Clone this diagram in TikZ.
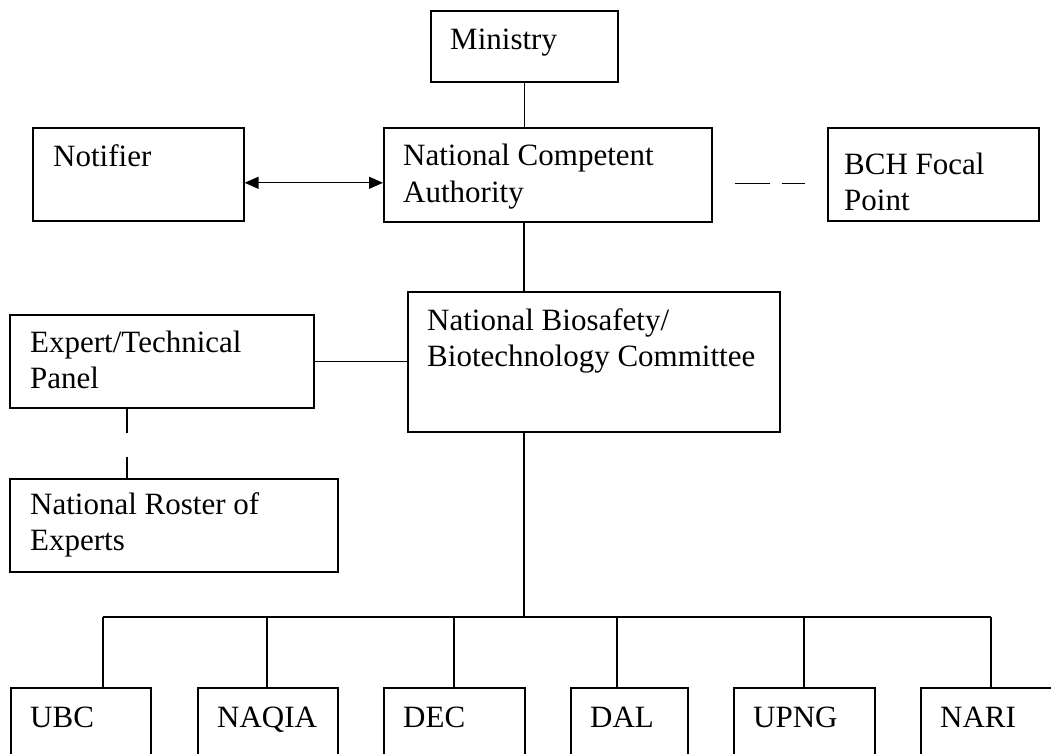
\documentclass[tikz,border=0pt]{standalone}
\usepackage{fontspec}
\setmainfont{Liberation Serif}
\usetikzlibrary{arrows.meta,calc}
\newcommand{\twol}[2]{\begin{tabular}[t]{@{}l@{}}#1\\#2\end{tabular}}
\begin{document}
\begin{tikzpicture}[x=1pt,y=-1pt,
  box/.style={draw,line width=1.6pt,inner sep=0pt,anchor=north west},
  txt/.style={anchor=base west,inner sep=0pt,font=\fontsize{31}{36}\selectfont},
  conn/.style={line width=1.4pt}]
\clip (0,0) rectangle (1051,754);
\fill[white] (0,0) rectangle (1051,754);
% boxes
\node[box,minimum width=187pt,minimum height=71pt] (min) at (430,10) {};
\node[box,minimum width=211pt,minimum height=93pt] (not) at (32,127) {};
\node[box,minimum width=328pt,minimum height=94pt] (nca) at (383,127) {};
\node[box,minimum width=211pt,minimum height=93pt] (bch) at (827,127) {};
\node[box,minimum width=304pt,minimum height=93pt] (exp) at (9,314) {};
\node[box,minimum width=372pt,minimum height=140pt] (nbc) at (407,291) {};
\node[box,minimum width=328pt,minimum height=93pt] (ros) at (9,478) {};
\node[box,minimum width=140pt,minimum height=100pt] (ubc) at (10,687) {};
\node[box,minimum width=140pt,minimum height=100pt] (naq) at (197,687) {};
\node[box,minimum width=141pt,minimum height=100pt] (dec) at (383,687) {};
\node[box,minimum width=117pt,minimum height=100pt] (dal) at (570,687) {};
\node[box,minimum width=141pt,minimum height=100pt] (upn) at (733,687) {};
\node[box,minimum width=160pt,minimum height=100pt] (nar) at (920,687) {};
% texts
\node[txt] (min-t) at ($(min.north west)+(20,40)$) {Ministry};
\node[txt] (not-t) at ($(not.north west)+(21,40)$) {Notifier};
\node[txt] (nca-t) at ($(nca.north west)+(20,39)$) {\twol{National Competent}{Authority}};
\node[txt] (bch-t) at ($(bch.north west)+(17,48)$) {\twol{BCH Focal}{Point}};
\node[txt] (exp-t) at ($(exp.north west)+(21,38)$) {\twol{Expert/Technical}{Panel}};
\node[txt] (nbc-t) at ($(nbc.north west)+(20,39)$) {\twol{National Biosafety/}{Biotechnology Committee}};
\node[txt] (ros-t) at ($(ros.north west)+(21,36)$) {\twol{National Roster of}{Experts}};
\node[txt] (ubc-t) at ($(ubc.north west)+(20,40)$) {UBC};
\node[txt] (naq-t) at ($(naq.north west)+(20,40)$) {NAQIA};
\node[txt] (dec-t) at ($(dec.north west)+(20,40)$) {DEC};
\node[txt] (dal-t) at ($(dal.north west)+(20,40)$) {DAL};
\node[txt] (upn-t) at ($(upn.north west)+(20,40)$) {UPNG};
\node[txt] (nar-t) at ($(nar.north west)+(20,40)$) {NARI};
% connectors
\coordinate (trunk) at (524,0);
\coordinate (bus) at (524,617);
\draw[conn] (min.south) -- (min.south |- nca.north);
\draw[conn] (trunk |- nca.south) -- (trunk |- nbc.north);
\draw[conn] (trunk |- nbc.south) -- (bus);
\draw[conn,{Triangle[length=14pt,width=12pt]}-{Triangle[length=14pt,width=12pt]}]
  ($(not.east)+(0,8.5)$) -- ($(not.east -| nca.west)+(0,8.5)$);
\draw[conn,dash pattern=on 0pt off 22pt on 35pt off 12pt on 23pt off 40pt]
  ($(nca.east)+(0,9)$) -- ($(nca.east -| bch.west)+(0,9)$);
\draw[conn] (exp.east) -- (exp.east -| nbc.west);
\coordinate (dl) at (127,0);
\draw[conn,dash pattern=on 24pt off 24pt] (dl |- exp.south) -- (dl |- ros.north);
\coordinate (c1) at (103,0);
\coordinate (c2) at (267,0);
\coordinate (c3) at (454,0);
\coordinate (c4) at (617,0);
\coordinate (c5) at (804,0);
\coordinate (c6) at (991,0);
\draw[conn] (c1 |- bus) -- (c6 |- bus);
\draw[conn] (c1 |- bus) -- (c1 |- ubc.north);
\draw[conn] (c2 |- bus) -- (c2 |- naq.north);
\draw[conn] (c3 |- bus) -- (c3 |- dec.north);
\draw[conn] (c4 |- bus) -- (c4 |- dal.north);
\draw[conn] (c5 |- bus) -- (c5 |- upn.north);
\draw[conn] (c6 |- bus) -- (c6 |- nar.north);
\end{tikzpicture}
\end{document}
